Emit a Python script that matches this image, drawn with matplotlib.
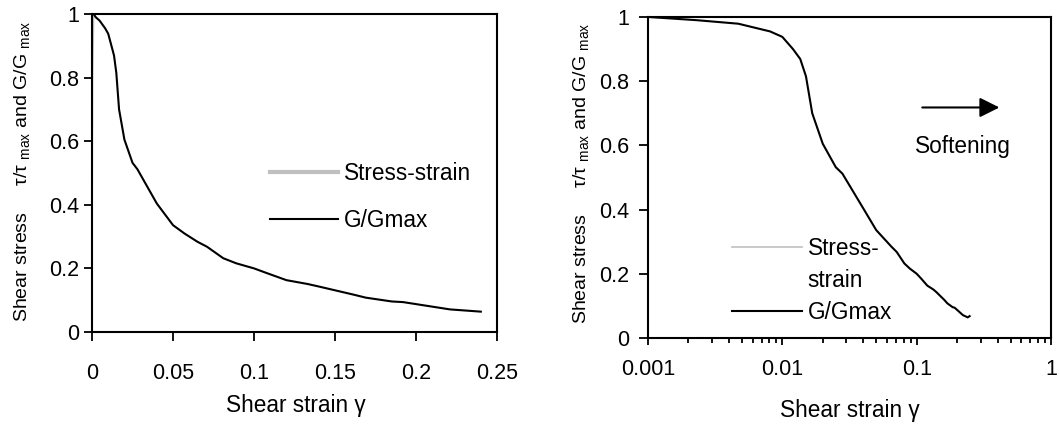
import matplotlib
matplotlib.use('Agg')
import matplotlib.pyplot as plt
from matplotlib.lines import Line2D
from matplotlib.ticker import FuncFormatter, LogLocator

plt.rcParams['font.family'] = ['Liberation Sans', 'DejaVu Sans']
plt.rcParams['mathtext.fontset'] = 'custom'
plt.rcParams['mathtext.rm'] = 'Liberation Sans'
plt.rcParams['mathtext.it'] = 'Liberation Sans'

# G/Gmax curve
strain = [0.001, 0.0023, 0.0047, 0.0081, 0.010, 0.012, 0.0136, 0.015, 0.0167, 0.020,
          0.025, 0.028, 0.040, 0.050, 0.057, 0.065, 0.071, 0.081, 0.089, 0.100,
          0.108, 0.120, 0.133, 0.140, 0.161, 0.169, 0.185, 0.192, 0.221, 0.240]
g_gmax = [1.0, 0.99, 0.979, 0.955, 0.938, 0.90, 0.869, 0.815, 0.70, 0.605,
          0.532, 0.512, 0.404, 0.336, 0.31, 0.284, 0.268, 0.232, 0.216, 0.200,
          0.185, 0.163, 0.151, 0.143, 0.118, 0.108, 0.096, 0.094, 0.071, 0.064]

# stress-strain (normalised), almost all of it lies under the axes frame
strain_ss = [0, 0.0001, 0.0003, 0.001, 0.01, 0.1, 0.24]
stress_ss = [0, 0.45, 0.8, 1.0, 1.0, 1.0, 1.0]

lin_ticks = [0, 0.05, 0.1, 0.15, 0.2, 0.25]
log_ticks = [0.001, 0.01, 0.1, 1]
y_ticks = [0, 0.2, 0.4, 0.6, 0.8, 1]

ylab = 'Shear stress     τ/τ $_{\\rm max}$ and G/G $_{\\rm max}$'
xlab = 'Shear strain γ'
fs = 15.5    # tick labels
fl = 16.3    # legend, labels, note
grey = '#c0c0c0'

fig = plt.figure(figsize=(10.6, 4.24), dpi=100)
ax1 = fig.add_axes([0.0868, 0.217, 0.3821, 0.750])
ax2 = fig.add_axes([0.6113, 0.203, 0.3802, 0.757])

# left: linear strain
ax1.plot(strain_ss, stress_ss, color=grey, lw=1.2)
ax1.plot([0] + strain, [1.0] + g_gmax, color='black', lw=1.5)
ax1.set_xlim(0, 0.25)
ax1.set_ylim(0, 1)
ax1.set_xticks(lin_ticks)
ax1.set_xticklabels(['%g' % t for t in lin_ticks])
ax1.set_yticks(y_ticks)
ax1.set_yticklabels(['%g' % t for t in y_ticks])
ax1.tick_params(axis='x', length=6.5, width=1.3, pad=16, labelsize=fs)
ax1.tick_params(axis='y', length=6, width=1.3, pad=3, labelsize=fs)
h1 = [Line2D([], [], color=grey, lw=3), Line2D([], [], color='black', lw=1.5)]
ax1.legend(h1, ['Stress-strain', 'G/Gmax'], loc='center left', bbox_to_anchor=(0.44, 0.425),
           frameon=False, fontsize=fl, borderpad=0, borderaxespad=0, handlelength=3.0,
           handletextpad=0.25, labelspacing=1.05)
ax1.set_xlabel(xlab, fontsize=fl)
ax1.xaxis.set_label_coords(0.504, -0.195)
ax1.set_ylabel(ylab, fontsize=14)
ax1.yaxis.set_label_coords(-0.148, 0.506)

# right: log strain
ax2.plot(strain_ss[3:], stress_ss[3:], color=grey, lw=1.2)
ax2.plot(strain + [0.248], g_gmax + [0.068], color='black', lw=1.5)
ax2.set_xscale('log')
ax2.set_xlim(0.001, 1)
ax2.set_ylim(0, 1)
ax2.set_xticks(log_ticks)
ax2.xaxis.set_major_formatter(FuncFormatter(lambda v, p: '%g' % v))
ax2.xaxis.set_minor_locator(LogLocator(base=10, subs=range(2, 10)))
ax2.xaxis.set_minor_formatter(FuncFormatter(lambda v, p: ''))
ax2.set_yticks(y_ticks)
ax2.set_yticklabels(['%g' % t for t in y_ticks])
ax2.tick_params(axis='x', which='major', length=5, width=1.3, pad=10, labelsize=fs)
ax2.tick_params(axis='x', which='minor', length=3.5, width=1.3)
ax2.tick_params(axis='y', length=6.5, width=1.3, pad=7, labelsize=fs)
h2 = [Line2D([], [], color=grey, lw=1.2), Line2D([], [], linestyle='none'),
      Line2D([], [], color='black', lw=1.5)]
ax2.legend(h2, ['Stress-', 'strain', 'G/Gmax'], loc='center left', bbox_to_anchor=(0.208, 0.18),
           frameon=False, fontsize=fl, borderpad=0, borderaxespad=0, handlelength=3.1,
           handletextpad=0.25, labelspacing=0.4)
ax2.annotate('', xy=(0.433, 0.718), xytext=(0.105, 0.718),
             arrowprops=dict(arrowstyle='-|>', color='black', lw=1.5, mutation_scale=30))
ax2.text(0.098, 0.596, 'Softening', fontsize=fl, va='center', ha='left')
ax2.set_xlabel(xlab, fontsize=fl)
ax2.xaxis.set_label_coords(0.501, -0.19)
ax2.set_ylabel(ylab, fontsize=14)
ax2.yaxis.set_label_coords(-0.141, 0.514)

for ax in (ax1, ax2):
    for s in ax.spines.values():
        s.set_linewidth(1.5)

plt.savefig('out.png', dpi=100)
